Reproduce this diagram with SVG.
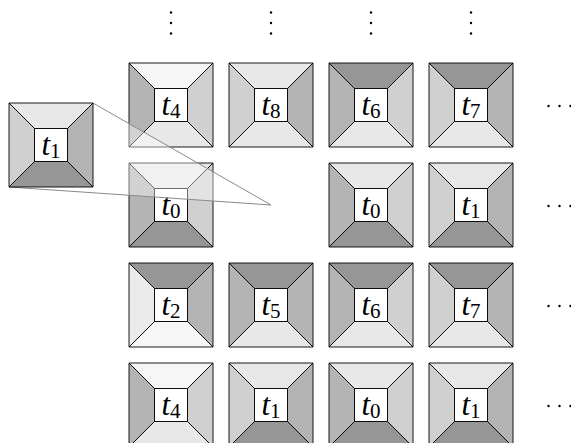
<svg xmlns="http://www.w3.org/2000/svg" xmlns:xlink="http://www.w3.org/1999/xlink" width="571" height="443" viewBox="0 0 571 443">
<style>
.tp{stroke:#000;stroke-width:0.9;stroke-linejoin:miter}
.in{fill:#fff;stroke:#000;stroke-width:0.9}
text{font-family:'Liberation Serif','Times New Roman','DejaVu Serif',serif;font-size:31px;text-anchor:middle;fill:#000}
.it{font-style:italic}
.sub{font-size:21px;font-style:normal}
.dot{fill:#000}
.lens{fill:#fff;fill-opacity:0.4;stroke:none}
.lensl{stroke:#8a8a8a;stroke-width:1;fill:none}
</style>
<defs>
<path id="T" class="tp" d="M0,0H84L58.5,25.5H25.5Z"/>
<path id="R" class="tp" d="M84,0V84L58.5,58.5V25.5Z"/>
<path id="B" class="tp" d="M84,84H0L25.5,58.5H58.5Z"/>
<path id="L" class="tp" d="M0,84V0L25.5,25.5V58.5Z"/>
<rect id="I" class="in" x="25.5" y="25.5" width="33" height="33"/>
</defs>
<g id="dots">
<circle class="dot" cx="171" cy="12.5" r="1.2"/><circle class="dot" cx="171" cy="23" r="1.2"/><circle class="dot" cx="171" cy="33.5" r="1.2"/>
<circle class="dot" cx="271" cy="12.5" r="1.2"/><circle class="dot" cx="271" cy="23" r="1.2"/><circle class="dot" cx="271" cy="33.5" r="1.2"/>
<circle class="dot" cx="371" cy="12.5" r="1.2"/><circle class="dot" cx="371" cy="23" r="1.2"/><circle class="dot" cx="371" cy="33.5" r="1.2"/>
<circle class="dot" cx="471" cy="12.5" r="1.2"/><circle class="dot" cx="471" cy="23" r="1.2"/><circle class="dot" cx="471" cy="33.5" r="1.2"/>
<circle class="dot" cx="548.5" cy="106" r="1.2"/><circle class="dot" cx="559.5" cy="106" r="1.2"/><circle class="dot" cx="570.5" cy="106" r="1.2"/>
<circle class="dot" cx="548.5" cy="206" r="1.2"/><circle class="dot" cx="559.5" cy="206" r="1.2"/><circle class="dot" cx="570.5" cy="206" r="1.2"/>
<circle class="dot" cx="548.5" cy="306" r="1.2"/><circle class="dot" cx="559.5" cy="306" r="1.2"/><circle class="dot" cx="570.5" cy="306" r="1.2"/>
<circle class="dot" cx="548.5" cy="406" r="1.2"/><circle class="dot" cx="559.5" cy="406" r="1.2"/><circle class="dot" cx="570.5" cy="406" r="1.2"/>
</g>
<!-- row 1 -->
<g id="r1c1" transform="translate(129,63)"><use xlink:href="#T" fill="#f6f6f6"/><use xlink:href="#R" fill="#d0d0d0"/><use xlink:href="#B" fill="#e8e8e8"/><use xlink:href="#L" fill="#b4b4b4"/><use xlink:href="#I"/><text x="42" y="51.5"><tspan class="it">t</tspan><tspan class="sub" dy="3">4</tspan></text></g>
<g id="r1c2" transform="translate(229,63)"><use xlink:href="#T" fill="#e8e8e8"/><use xlink:href="#R" fill="#b4b4b4"/><use xlink:href="#B" fill="#e8e8e8"/><use xlink:href="#L" fill="#d0d0d0"/><use xlink:href="#I"/><text x="42" y="51.5"><tspan class="it">t</tspan><tspan class="sub" dy="3">8</tspan></text></g>
<g id="r1c3" transform="translate(329,63)"><use xlink:href="#T" fill="#969696"/><use xlink:href="#R" fill="#d0d0d0"/><use xlink:href="#B" fill="#e8e8e8"/><use xlink:href="#L" fill="#b4b4b4"/><use xlink:href="#I"/><text x="42" y="51.5"><tspan class="it">t</tspan><tspan class="sub" dy="3">6</tspan></text></g>
<g id="r1c4" transform="translate(429,63)"><use xlink:href="#T" fill="#969696"/><use xlink:href="#R" fill="#b4b4b4"/><use xlink:href="#B" fill="#e8e8e8"/><use xlink:href="#L" fill="#d0d0d0"/><use xlink:href="#I"/><text x="42" y="51.5"><tspan class="it">t</tspan><tspan class="sub" dy="3">7</tspan></text></g>
<!-- row 2 -->
<g id="r2c1" transform="translate(129,163)"><use xlink:href="#T" fill="#e8e8e8"/><use xlink:href="#R" fill="#d0d0d0"/><use xlink:href="#B" fill="#969696"/><use xlink:href="#L" fill="#b4b4b4"/><use xlink:href="#I"/><text x="42" y="51.5"><tspan class="it">t</tspan><tspan class="sub" dy="3">0</tspan></text></g>
<g id="r2c3" transform="translate(329,163)"><use xlink:href="#T" fill="#e8e8e8"/><use xlink:href="#R" fill="#d0d0d0"/><use xlink:href="#B" fill="#969696"/><use xlink:href="#L" fill="#b4b4b4"/><use xlink:href="#I"/><text x="42" y="51.5"><tspan class="it">t</tspan><tspan class="sub" dy="3">0</tspan></text></g>
<g id="r2c4" transform="translate(429,163)"><use xlink:href="#T" fill="#e8e8e8"/><use xlink:href="#R" fill="#b4b4b4"/><use xlink:href="#B" fill="#969696"/><use xlink:href="#L" fill="#d0d0d0"/><use xlink:href="#I"/><text x="42" y="51.5"><tspan class="it">t</tspan><tspan class="sub" dy="3">1</tspan></text></g>
<!-- row 3 -->
<g id="r3c1" transform="translate(129,263)"><use xlink:href="#T" fill="#969696"/><use xlink:href="#R" fill="#b4b4b4"/><use xlink:href="#B" fill="#f6f6f6"/><use xlink:href="#L" fill="#ebebeb"/><use xlink:href="#I"/><text x="42" y="51.5"><tspan class="it">t</tspan><tspan class="sub" dy="3">2</tspan></text></g>
<g id="r3c2" transform="translate(229,263)"><use xlink:href="#T" fill="#969696"/><use xlink:href="#R" fill="#b4b4b4"/><use xlink:href="#B" fill="#e8e8e8"/><use xlink:href="#L" fill="#b4b4b4"/><use xlink:href="#I"/><text x="42" y="51.5"><tspan class="it">t</tspan><tspan class="sub" dy="3">5</tspan></text></g>
<g id="r3c3" transform="translate(329,263)"><use xlink:href="#T" fill="#969696"/><use xlink:href="#R" fill="#d0d0d0"/><use xlink:href="#B" fill="#e8e8e8"/><use xlink:href="#L" fill="#b4b4b4"/><use xlink:href="#I"/><text x="42" y="51.5"><tspan class="it">t</tspan><tspan class="sub" dy="3">6</tspan></text></g>
<g id="r3c4" transform="translate(429,263)"><use xlink:href="#T" fill="#969696"/><use xlink:href="#R" fill="#b4b4b4"/><use xlink:href="#B" fill="#e8e8e8"/><use xlink:href="#L" fill="#d0d0d0"/><use xlink:href="#I"/><text x="42" y="51.5"><tspan class="it">t</tspan><tspan class="sub" dy="3">7</tspan></text></g>
<!-- row 4 -->
<g id="r4c1" transform="translate(129,363)"><use xlink:href="#T" fill="#f6f6f6"/><use xlink:href="#R" fill="#d0d0d0"/><use xlink:href="#B" fill="#e8e8e8"/><use xlink:href="#L" fill="#b4b4b4"/><use xlink:href="#I"/><text x="42" y="51.5"><tspan class="it">t</tspan><tspan class="sub" dy="3">4</tspan></text></g>
<g id="r4c2" transform="translate(229,363)"><use xlink:href="#T" fill="#e8e8e8"/><use xlink:href="#R" fill="#b4b4b4"/><use xlink:href="#B" fill="#969696"/><use xlink:href="#L" fill="#d0d0d0"/><use xlink:href="#I"/><text x="42" y="51.5"><tspan class="it">t</tspan><tspan class="sub" dy="3">1</tspan></text></g>
<g id="r4c3" transform="translate(329,363)"><use xlink:href="#T" fill="#e8e8e8"/><use xlink:href="#R" fill="#d0d0d0"/><use xlink:href="#B" fill="#969696"/><use xlink:href="#L" fill="#b4b4b4"/><use xlink:href="#I"/><text x="42" y="51.5"><tspan class="it">t</tspan><tspan class="sub" dy="3">0</tspan></text></g>
<g id="r4c4" transform="translate(429,363)"><use xlink:href="#T" fill="#e8e8e8"/><use xlink:href="#R" fill="#b4b4b4"/><use xlink:href="#B" fill="#969696"/><use xlink:href="#L" fill="#d0d0d0"/><use xlink:href="#I"/><text x="42" y="51.5"><tspan class="it">t</tspan><tspan class="sub" dy="3">1</tspan></text></g>
<!-- connectors: magnification lens -->
<g id="connectors">
<polygon class="lens" points="93,103 9,187 271,205"/>
<polyline class="lensl" points="93,103 271,205 9,187"/>
</g>
<g id="t1zoom" transform="translate(9,103)"><use xlink:href="#T" fill="#e8e8e8"/><use xlink:href="#R" fill="#b4b4b4"/><use xlink:href="#B" fill="#969696"/><use xlink:href="#L" fill="#d0d0d0"/><use xlink:href="#I"/><text x="42" y="51.5"><tspan class="it">t</tspan><tspan class="sub" dy="3">1</tspan></text></g>
</svg>
